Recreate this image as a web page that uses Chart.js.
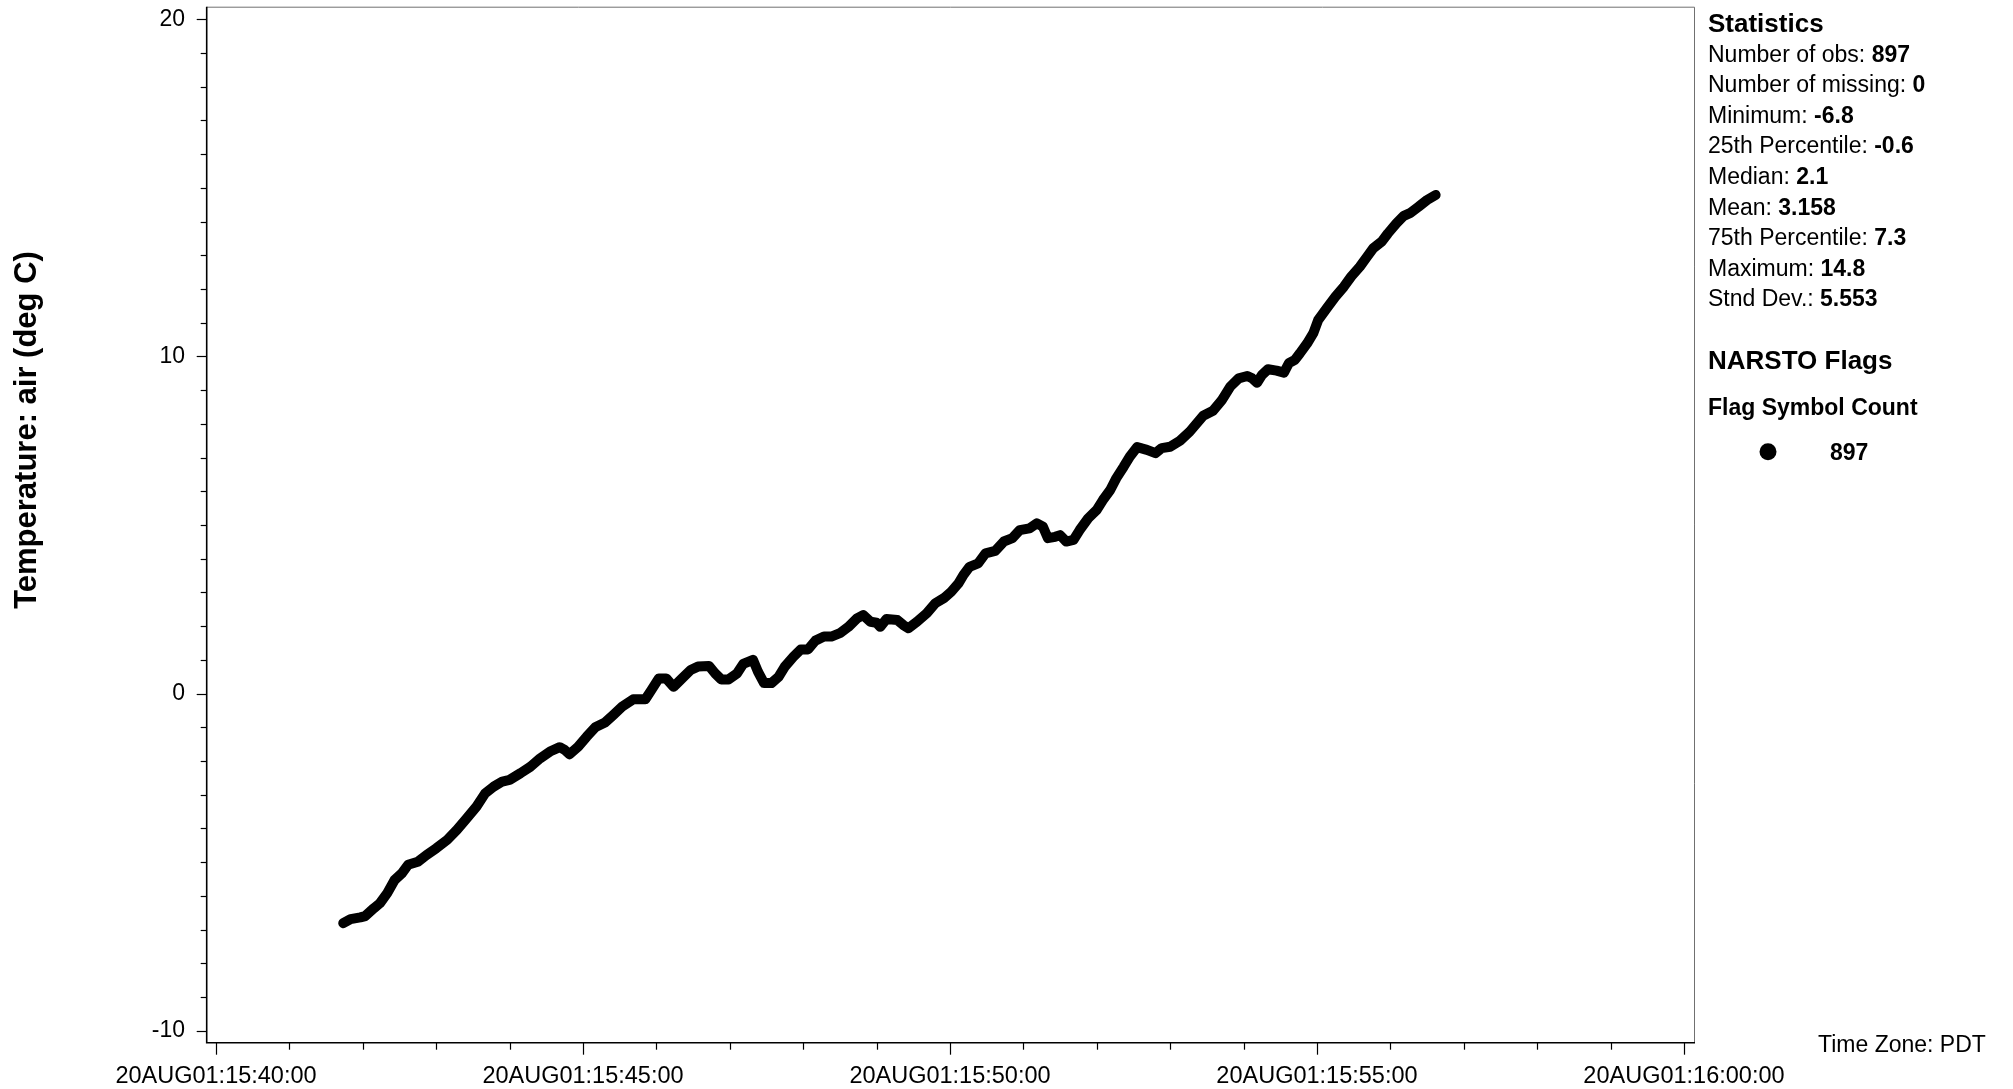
<!DOCTYPE html>
<html>
<head>
<meta charset="utf-8">
<script src="https://cdn.jsdelivr.net/npm/chart.js@4.4.1/dist/chart.umd.min.js"></script>
<style>
html,body{margin:0;padding:0;background:#fff;overflow:hidden}
#wrap{width:2013px;height:1089px;position:relative}
</style>
</head>
<body>
<div id="wrap"><canvas id="c"></canvas></div>
<script>
// seconds after 20AUG01 15:40:00 (PDT)
const timeSec = [
104,110,118,122,129,134,140,146,152,157,165,172,180,189,197,205,213,220,227,234,
240,249,257,265,273,281,285,289,296,303,310,318,325,332,
341,351,356,362,368,374,381,388,394,403,408,413,419,426,431,439,443,448,454,460,
465,472,478,484,490,497,503,510,517,524,529,535,540,543,548,557,562,566,
573,581,588,595,601,607,611,616,623,629,637,644,651,657,665,671,676,680,686,690,
695,701,706,713,720,725,731,736,742,747,753,761,768,773,780,788,796,
807,815,822,829,836,843,847,851,855,860,867,873,877,882,886,892,897,901,908,915,
922,928,935,941,946,953,958,965,971,976,983,990,997
];
const tempC = [
-6.81,-6.69,-6.64,-6.60,-6.37,-6.22,-5.92,-5.53,-5.33,-5.08,-4.99,-4.79,-4.59,-4.34,-4.04,-3.70,-3.35,-2.96,-2.76,-2.61,
-2.56,-2.36,-2.17,-1.92,-1.72,-1.59,-1.67,-1.80,-1.58,-1.28,-1.00,-0.86,-0.63,-0.39,
-0.17,-0.17,0.11,0.45,0.45,0.20,0.45,0.70,0.80,0.82,0.60,0.42,0.42,0.60,0.88,1.00,0.65,0.31,0.31,0.50,
0.80,1.09,1.31,1.31,1.57,1.69,1.69,1.79,1.98,2.23,2.33,2.13,2.10,1.98,2.21,2.18,2.03,1.94,
2.13,2.38,2.68,2.83,3.02,3.27,3.52,3.76,3.86,4.16,4.23,4.51,4.61,4.85,4.90,5.05,4.95,4.61,4.65,4.70,
4.51,4.56,4.85,5.20,5.45,5.74,6.04,6.39,6.73,7.03,7.31,7.23,7.13,7.28,7.32,7.50,7.77,
8.24,8.39,8.69,9.10,9.35,9.42,9.35,9.22,9.45,9.62,9.58,9.52,9.80,9.90,10.09,10.39,10.69,11.08,11.43,11.77,
12.07,12.37,12.66,12.96,13.21,13.41,13.65,13.95,14.17,14.25,14.44,14.64,14.79
];
const xTickValues = [0, 300, 600, 900, 1200];
const xTickLabels = ['20AUG01:15:40:00','20AUG01:15:45:00','20AUG01:15:50:00','20AUG01:15:55:00','20AUG01:16:00:00'];
const yTickValues = [-10, 0, 10, 20];
const yTitle = 'Temperature: air (deg C)';
const statLabels = ['Number of obs: ','Number of missing: ','Minimum: ','25th Percentile: ','Median: ','Mean: ','75th Percentile: ','Maximum: ','Stnd Dev.: '];
const statValues = ['897','0','-6.8','-0.6','2.1','3.158','7.3','14.8','5.553'];
const flagCounts = ['897'];
const timeZoneText = 'Time Zone: PDT';

const FONT = '"Liberation Sans", Arial, Helvetica, sans-serif';

const overlay = {
  id: 'overlay',
  afterDraw(chart) {
    const {ctx, chartArea: a, scales: {x, y}} = chart;
    ctx.save();
    // frame: top/right gray, left/bottom black
    ctx.strokeStyle = '#707070';
    ctx.lineWidth = 1;
    ctx.beginPath();
    ctx.moveTo(a.left, a.top + 0.5);
    ctx.lineTo(a.right + 0.5, a.top + 0.5);
    ctx.lineTo(a.right + 0.5, a.bottom);
    ctx.stroke();
    ctx.strokeStyle = '#000';
    ctx.lineWidth = 1.6;
    ctx.beginPath();
    ctx.moveTo(a.left, a.top);
    ctx.lineTo(a.left, a.bottom);
    ctx.lineTo(a.right + 1, a.bottom);
    ctx.stroke();
    // y ticks (major every 10, minor every 1)
    ctx.lineWidth = 1.2;
    for (let v = -10; v <= 20; v++) {
      const py = Math.round(y.getPixelForValue(v)) + 0.5;
      const len = (v % 10 === 0) ? 10 : 6;
      ctx.beginPath(); ctx.moveTo(a.left - len, py); ctx.lineTo(a.left, py); ctx.stroke();
    }
    // x ticks (major every 5 min, minor every 1 min)
    for (let t = 0; t <= 1200; t += 60) {
      const px = Math.round(x.getPixelForValue(t)) + 0.5;
      const len = (t % 300 === 0) ? 12 : 7;
      ctx.beginPath(); ctx.moveTo(px, a.bottom); ctx.lineTo(px, a.bottom + len); ctx.stroke();
    }
    // y axis title
    ctx.fillStyle = '#000';
    ctx.save();
    ctx.translate(36, 430);
    ctx.rotate(-Math.PI / 2);
    ctx.font = 'bold 31px ' + FONT;
    ctx.textAlign = 'center';
    ctx.textBaseline = 'alphabetic';
    ctx.fillText(yTitle, 0, 0);
    ctx.restore();
    // statistics panel
    const px0 = 1708;
    ctx.textAlign = 'left';
    ctx.textBaseline = 'alphabetic';
    ctx.font = 'bold 26px ' + FONT;
    ctx.fillText('Statistics', px0, 32);
    for (let i = 0; i < statLabels.length; i++) {
      const base = 53.3 + i * 30.6 + 8.2;
      ctx.font = '23px ' + FONT;
      ctx.fillText(statLabels[i], px0, base);
      const w = ctx.measureText(statLabels[i]).width;
      ctx.font = 'bold 23px ' + FONT;
      ctx.fillText(statValues[i], px0 + w, base);
    }
    ctx.font = 'bold 26px ' + FONT;
    ctx.fillText('NARSTO Flags', px0, 369.3);
    ctx.font = 'bold 23px ' + FONT;
    ctx.fillText('Flag Symbol Count', px0, 415);
    ctx.beginPath();
    ctx.arc(1768, 451.7, 8.5, 0, Math.PI * 2);
    ctx.fill();
    ctx.fillText(flagCounts[0], 1830, 460);
    // time zone
    ctx.font = '23px ' + FONT;
    ctx.fillText(timeZoneText, 1818, 1052);
    ctx.restore();
  }
};

new Chart(document.getElementById('c'), {
  type: 'line',
  data: {
    datasets: [{
      data: timeSec.map((t, i) => ({x: t, y: tempC[i]})),
      borderColor: '#000',
      backgroundColor: '#000',
      borderWidth: 10,
      borderCapStyle: 'round',
      borderJoinStyle: 'round',
      pointRadius: 0,
      tension: 0,
      fill: false
    }]
  },
  options: {
    responsive: true,
    maintainAspectRatio: false,
    devicePixelRatio: 1,
    animation: false,
    events: [],
    layout: {padding: {left: 0, right: 319, top: 6.7, bottom: 0}},
    plugins: {legend: {display: false}, tooltip: {enabled: false}, title: {display: false}},
    scales: {
      x: {
        type: 'linear',
        min: -7.6,
        max: 1208.2,
        grid: {display: false, drawTicks: false},
        border: {display: false},
        afterBuildTicks: s => { s.ticks = xTickValues.map(v => ({value: v})); },
        afterFit: s => { s.height = 46.3; s.paddingLeft = 0; s.paddingRight = 0; },
        ticks: {
          autoSkip: false,
          maxRotation: 0,
          padding: 20,
          color: '#000',
          font: {family: FONT, size: 23.5},
          callback: (v) => xTickLabels[xTickValues.indexOf(v)]
        }
      },
      y: {
        type: 'linear',
        min: -10.356,
        max: 20.374,
        grid: {display: false, drawTicks: false},
        border: {display: false},
        afterBuildTicks: s => { s.ticks = yTickValues.map(v => ({value: v})); },
        afterFit: s => { s.width = 206.7; s.paddingTop = 0; s.paddingBottom = 0; },
        ticks: {
          autoSkip: false,
          padding: 21.7,
          color: '#000',
          font: {family: FONT, size: 23},
          callback: (v) => String(v)
        }
      }
    }
  },
  plugins: [overlay]
});
</script>
</body>
</html>
